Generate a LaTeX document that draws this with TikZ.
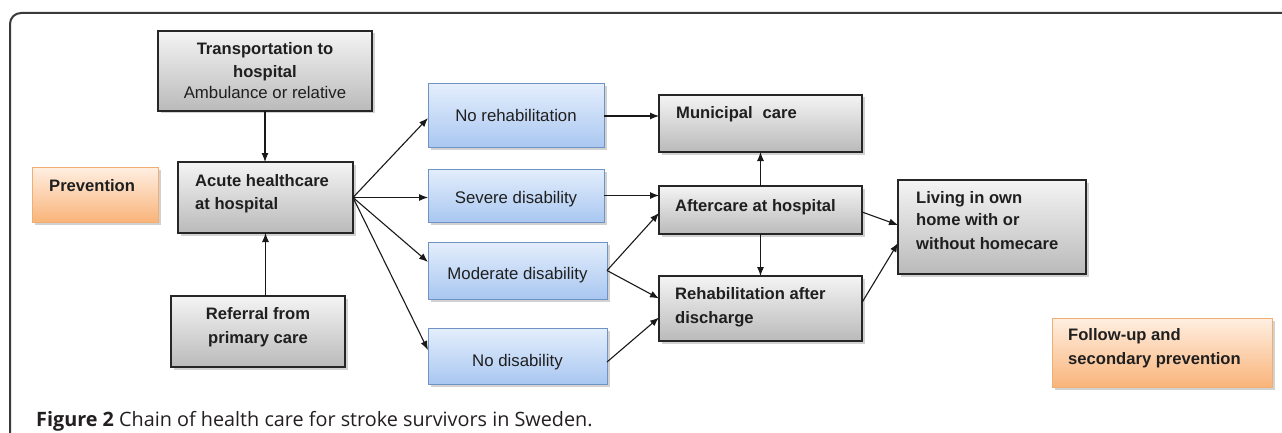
\documentclass[tikz,border=0pt]{standalone}
\usepackage{fontspec}
\setmainfont{Liberation Sans}
\newfontfamily\capfont{Open Sans}
\usetikzlibrary{shadows,arrows.meta,calc}
\definecolor{gtop}{HTML}{F4F4F4}
\definecolor{gbot}{HTML}{BABABA}
\definecolor{btop}{HTML}{E4EEFC}
\definecolor{bbot}{HTML}{A9C7F1}
\definecolor{bdraw}{HTML}{6F93C3}
\definecolor{otop}{HTML}{FFEFE2}
\definecolor{obot}{HTML}{F9B47A}
\definecolor{odraw}{HTML}{EFAE72}
\definecolor{frame}{HTML}{3A3A3A}
\definecolor{captxt}{HTML}{231F20}
\begin{document}
\begin{tikzpicture}[x=1pt,y=-1pt,
  boxbase/.style={inner sep=0pt, outer sep=0pt,
    drop shadow={shadow xshift=2.5pt,shadow yshift=-2.5pt,opacity=0.35}},
  graybox/.style={boxbase, draw=black!85, line width=1.4pt, top color=gtop, bottom color=gbot},
  bluebox/.style={boxbase, draw=bdraw, line width=1pt, top color=btop, bottom color=bbot},
  orangebox/.style={boxbase, draw=odraw, line width=1pt, top color=otop, bottom color=obot},
  btxt/.style={font=\fontsize{16.6}{20}\selectfont\bfseries, text=black!88, inner sep=0pt, anchor=base west},
  btxtc/.style={btxt, anchor=base},
  rtxt/.style={font=\fontsize{16.8}{20}\selectfont, text=black!88, inner sep=0pt, anchor=base},
  arr/.style={-{Latex[length=9pt,width=7pt]}, line width=1.1pt, draw=black!90},
]
\useasboundingbox (0,0) rectangle (1282,433);
\clip (0,0) rectangle (1282,433);
\fill[white] (0,0) rectangle (1282,433);
\draw[line width=2pt, frame, rounded corners=11pt] (10,460) -- (10,13) -- (1300,13);

% gray boxes
\node[graybox, minimum width=214pt, minimum height=80pt] (trans) at (265,71) {};
\node[graybox, minimum width=175pt, minimum height=71pt] (acute) at (265.5,197.5) {};
\node[graybox, minimum width=174pt, minimum height=71pt] (ref) at (258,331.5) {};
\node[graybox, minimum width=203pt, minimum height=57pt] (muni) at (760.5,123.5) {};
\node[graybox, minimum width=203pt, minimum height=48pt] (after) at (760.5,210) {};
\node[graybox, minimum width=203pt, minimum height=65pt] (rehab) at (760.5,308.5) {};
\node[graybox, minimum width=188pt, minimum height=94pt] (living) at (992,227) {};
% blue boxes
\node[bluebox, minimum width=176pt, minimum height=64pt] (norehab) at (516,116) {};
\node[bluebox, minimum width=176pt, minimum height=53pt] (severe) at (516,195.5) {};
\node[bluebox, minimum width=179pt, minimum height=57pt] (moderate) at (517.5,270.5) {};
\node[bluebox, minimum width=179pt, minimum height=56pt] (nodis) at (517.5,356) {};
% orange boxes
\node[orangebox, minimum width=126pt, minimum height=55pt] (prev) at (95,194.5) {};
\node[orangebox, minimum width=220pt, minimum height=69pt] (follow) at (1162,352.5) {};

% texts
\node[btxtc] (t1) at (265,55) {Transportation to};
\node[btxtc] (t2) at (265,78) {hospital};
\node[rtxt] (t3) at (265,99) {Ambulance or relative};
\node[btxt] (a1) at (195,186) {Acute healthcare};
\node[btxt] (a2) at (195,209) {at hospital};
\node[btxt] (p1) at (49,191) {Prevention};
\node[btxtc] (r1) at (258,319) {Referral from};
\node[btxtc] (r2) at (258,343) {primary care};
\node[rtxt] (n1) at (516,122) {No rehabilitation};
\node[rtxt] (n2) at (516,203) {Severe disability};
\node[rtxt] (n3) at (517.5,279) {Moderate disability};
\node[rtxt] (n4) at (517.5,366) {No disability};
\node[btxt] (m1) at (676,119) {Municipal\hspace{0.6em}care};
\node[btxt] (f1) at (675,211) {Aftercare at hospital};
\node[btxt] (h1) at (675,299) {Rehabilitation after};
\node[btxt] (h2) at (675,323) {discharge};
\node[btxt] (l1) at (916,203) {Living in own};
\node[btxt] (l2) at (916,225) {home with or};
\node[btxt] (l3) at (916,249) {without homecare};
\node[btxt] (o1) at (1068,340) {Follow-up and};
\node[btxt] (o2) at (1068,364) {secondary prevention};
\node[font=\capfont\fontsize{19.8}{22}\selectfont, text=captxt, inner sep=0pt, anchor=base west] (cap) at (36,426)
  {\textbf{Figure 2} Chain of health care for stroke survivors in Sweden.};

% connectors
\draw[arr] (trans.south) -- (trans.south |- acute.north);
\draw[arr] (ref.north -| acute.south) -- (acute.south);
\draw[arr] (acute.east) -- ($(norehab.west)+(0,2)$);
\draw[arr] (acute.east) -- (severe.west |- acute.east);
\draw[arr] (acute.east) -- ($(moderate.west)+(0,-8.5)$);
\draw[arr] (acute.east) -- ($(nodis.west)+(0,-6)$);
\draw[arr] (norehab.east) -- (muni.west |- norehab.east);
\draw[arr] (severe.east) -- (after.west |- severe.east);
\draw[arr] (moderate.east) -- ($(after.west)+(0,3)$);
\draw[arr] (moderate.east) -- ($(rehab.west)+(0,-10)$);
\draw[arr] ($(nodis.east)+(0,6)$) -- ($(rehab.west)+(0,9)$);
\draw[arr] (after.north) -- (muni.south);
\draw[arr] (after.south) -- (rehab.north);
\draw[arr] ($(after.east)+(0,2)$) -- ($(living.west)+(0,-2)$);
\draw[arr] ($(rehab.east)+(0,-6)$) -- ($(living.west)+(0,16)$);
\end{tikzpicture}
\end{document}
